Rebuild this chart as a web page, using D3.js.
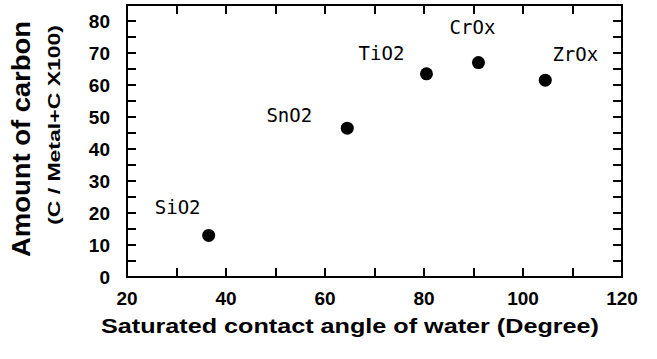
<!DOCTYPE html>
<html>
<head>
<meta charset="utf-8">
<script src="https://cdn.jsdelivr.net/npm/d3@7"></script>
<style>
  body { margin: 0; background: #fff; }
  svg { display: block; }
</style>
</head>
<body>
<div id="chart"></div>
<script>
// data
var oxides = ['SiO2', 'SnO2', 'TiO2', 'CrOx', 'ZrOx'];
var contactAngle = [36.5, 64.5, 80.5, 91, 104.5];
var carbonAmount = [13, 46.5, 63.5, 67, 61.5];
var xTicks = [20, 40, 60, 80, 100, 120];
var yTicks = [0, 10, 20, 30, 40, 50, 60, 70, 80];

var W = 657, H = 359,
    plotL = 127, plotR = 622, plotT = 5, plotB = 277;

var svg = d3.select('#chart').append('svg')
    .attr('width', W).attr('height', H);

var x = d3.scaleLinear().domain([20, 120]).range([plotL, plotR]);
var y = d3.scaleLinear().domain([0, 85]).range([plotB, plotT]);

var tickLen = 9;

// frame
svg.append('path')
    .attr('d', 'M' + plotL + ',' + plotT + 'H' + plotR + 'V' + plotB + 'H' + plotL + 'Z')
    .attr('shape-rendering', 'crispEdges')
    .style('fill', 'none')
    .style('stroke', '#000')
    .style('stroke-width', '2px');

// inner ticks: x every 10, y every 5
var xMinor = d3.range(30, 120, 10);
var yMinor = d3.range(5, 85, 5);

var ticks = svg.append('g')
    .attr('shape-rendering', 'crispEdges')
    .style('stroke', '#000')
    .style('stroke-width', '2px');

xMinor.forEach(function(v) {
  ticks.append('line').attr('x1', x(v)).attr('x2', x(v))
      .attr('y1', plotB).attr('y2', plotB - tickLen);
  ticks.append('line').attr('x1', x(v)).attr('x2', x(v))
      .attr('y1', plotT).attr('y2', plotT + tickLen);
});
yMinor.forEach(function(v) {
  ticks.append('line').attr('x1', plotL).attr('x2', plotL + tickLen)
      .attr('y1', y(v)).attr('y2', y(v));
  ticks.append('line').attr('x1', plotR).attr('x2', plotR - tickLen)
      .attr('y1', y(v)).attr('y2', y(v));
});

// tick labels
svg.append('g').selectAll('text')
    .data(xTicks)
  .enter().append('text')
    .attr('x', function(d) { return x(d); })
    .attr('y', 305)
    .attr('text-anchor', 'middle')
    .attr('font-family', 'Liberation Sans, Arial, sans-serif')
    .attr('font-weight', 'bold')
    .attr('font-size', 19)
    .text(function(d) { return d; });

svg.append('g').selectAll('text')
    .data(yTicks)
  .enter().append('text')
    .attr('x', 110)
    .attr('y', function(d) { return y(d); })
    .attr('dy', '0.36em')
    .attr('text-anchor', 'end')
    .attr('font-family', 'Liberation Sans, Arial, sans-serif')
    .attr('font-weight', 'bold')
    .attr('font-size', 19)
    .text(function(d) { return d; });

// axis titles
svg.append('text')
    .attr('x', 350).attr('y', 333)
    .attr('text-anchor', 'middle')
    .attr('font-family', 'Liberation Sans, Arial, sans-serif')
    .attr('font-weight', 'bold')
    .attr('font-size', 21)
    .attr('textLength', 498)
    .attr('lengthAdjust', 'spacingAndGlyphs')
    .text('Saturated contact angle of water (Degree)');

svg.append('text')
    .attr('transform', 'translate(30,139) rotate(-90)')
    .attr('text-anchor', 'middle')
    .attr('font-family', 'Liberation Sans, Arial, sans-serif')
    .attr('font-weight', 'bold')
    .attr('font-size', 25)
    .attr('textLength', 236)
    .attr('lengthAdjust', 'spacingAndGlyphs')
    .text('Amount of carbon');

svg.append('text')
    .attr('transform', 'translate(60,125) rotate(-90)')
    .attr('text-anchor', 'middle')
    .attr('font-family', 'Liberation Sans, Arial, sans-serif')
    .attr('font-weight', 'bold')
    .attr('font-size', 17)
    .attr('textLength', 200)
    .attr('lengthAdjust', 'spacingAndGlyphs')
    .text('(C / Metal+C X100)');

// points
var pts = oxides.map(function(name, i) {
  return { name: name, a: contactAngle[i], c: carbonAmount[i] };
});

svg.append('g').selectAll('circle')
    .data(pts)
  .enter().append('circle')
    .attr('cx', function(d) { return x(d.a); })
    .attr('cy', function(d) { return y(d.c); })
    .attr('r', 6.5)
    .attr('fill', '#000');

// point labels, offset up-left like the original
var labelOffset = {
  SiO2: [-31, -21], SnO2: [-58, -6], TiO2: [-45, -14],
  CrOx: [-6, -29], ZrOx: [30, -19]
};
svg.append('g').selectAll('text')
    .data(pts)
  .enter().append('text')
    .attr('x', function(d) { return x(d.a) + labelOffset[d.name][0]; })
    .attr('y', function(d) { return y(d.c) + labelOffset[d.name][1]; })
    .attr('text-anchor', 'middle')
    .attr('font-family', 'DejaVu Sans Mono, monospace')
    .attr('font-size', 19)
    .text(function(d) { return d.name; });
</script>
</body>
</html>
